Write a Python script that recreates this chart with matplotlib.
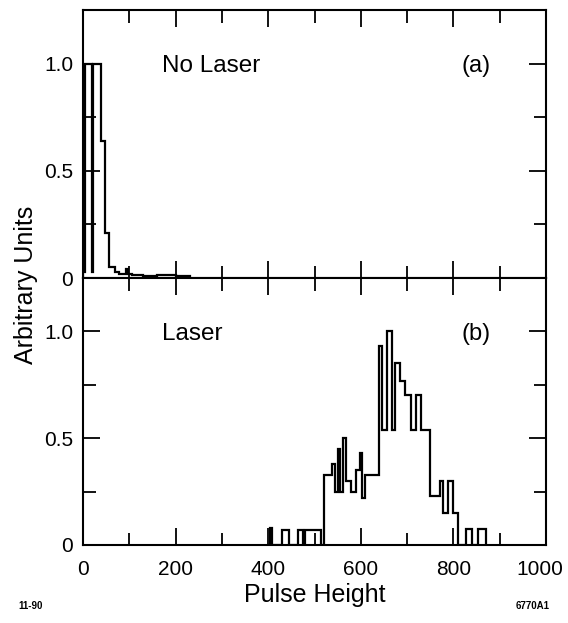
import matplotlib
matplotlib.use("Agg")
import matplotlib.pyplot as plt
import matplotlib.transforms as mtransforms
from matplotlib.ticker import MultipleLocator

plt.rcParams['font.family'] = ['Liberation Sans', 'DejaVu Sans']

# Panel (a): No Laser  -- histogram step edges / heights
edges_a = [0, 4, 19, 22, 38, 47, 56, 70, 78, 92, 98, 105, 130, 160, 200, 232]
heights_a = [0.03, 1.0, 0.03, 1.0, 0.64, 0.21, 0.05, 0.03, 0.02, 0.04, 0.02,
             0.015, 0.01, 0.012, 0.01]

# Panel (b): Laser
edges_b = [400, 404, 409, 430, 446, 465, 475, 480, 515, 520, 538, 545, 550, 555,
           562, 568, 578, 590, 598, 603, 610, 640, 645, 656, 667, 674, 685, 696,
           708, 719, 731, 750, 771, 778, 789, 800, 810, 827, 840, 854, 870]
heights_b = [0, 0.08, 0, 0.07, 0, 0.07, 0, 0.07, 0, 0.33, 0.38, 0.25, 0.45, 0.25,
             0.5, 0.3, 0.25, 0.35, 0.43, 0.22, 0.33, 0.93, 0.54, 1.0, 0.54, 0.85,
             0.77, 0.70, 0.54, 0.70, 0.54, 0.23, 0.30, 0.15, 0.30, 0.15, 0, 0.075,
             0, 0.075]

panel_labels = ["No Laser", "Laser"]
panel_tags = ["(a)", "(b)"]
xticks = [0, 200, 400, 600, 800, 1000]
yticks = [0, 0.5, 1.0]
ytick_labels = ["0", "0.5", "1.0"]

W, H = 568, 623
fig = plt.figure(figsize=(W / 100, H / 100), dpi=100)
left = 83 / W
width = 463 / W
ax_a = fig.add_axes([left, (H - 278) / H, width, 268 / H])
ax_b = fig.add_axes([left, (H - 545) / H, width, 267 / H])

for ax, e, h, lab, tag in [(ax_a, edges_a, heights_a, panel_labels[0], panel_tags[0]),
                           (ax_b, edges_b, heights_b, panel_labels[1], panel_tags[1])]:
    ax.stairs(h, e, color='black', linewidth=1.6, baseline=0)
    ax.set_xlim(0, 1000)
    ax.set_ylim(0, 1.25)
    ax.set_yticks(yticks)
    ax.set_yticklabels(ytick_labels)
    ax.xaxis.set_major_locator(MultipleLocator(200))
    ax.xaxis.set_minor_locator(MultipleLocator(100))
    ax.yaxis.set_minor_locator(MultipleLocator(0.25))
    ax.tick_params(which='both', direction='in', top=True, right=True,
                   width=1.3, labelsize=15)
    ax.tick_params(which='major', length=12)
    ax.tick_params(which='minor', length=9)
    ax.tick_params(axis='y', pad=7)
    for s in ax.spines.values():
        s.set_linewidth(1.5)
    ax.text(0.171, 0.79, lab, transform=ax.transAxes, fontsize=17.5,
            ha='left', va='center')
    ax.text(0.85, 0.79, tag, transform=ax.transAxes, fontsize=17,
            ha='center', va='center')

ax_a.tick_params(labelbottom=False)
ax_b.set_xticks(xticks)
ax_b.set_xticklabels([str(t) for t in xticks])
ax_b.tick_params(axis='x', pad=11)
ax_b.set_xlabel("Pulse Height", fontsize=18, labelpad=3)

# nudge the last tick label ("1000") left so it stays inside the figure
shift = mtransforms.ScaledTranslation(-6 / 100, 0, fig.dpi_scale_trans)
last = ax_b.get_xticklabels()[-1]
last.set_transform(last.get_transform() + shift)

fig.text(26 / W, 1 - 285 / H, "Arbitrary Units", rotation=90, fontsize=18,
         ha='center', va='center')
fig.text(18 / W, 1 - 606 / H, "11-90", fontsize=7, fontweight='bold',
         ha='left', va='center')
fig.text(550 / W, 1 - 606 / H, "6770A1", fontsize=7, fontweight='bold',
         ha='right', va='center')

fig.savefig("out.png", dpi=100)
